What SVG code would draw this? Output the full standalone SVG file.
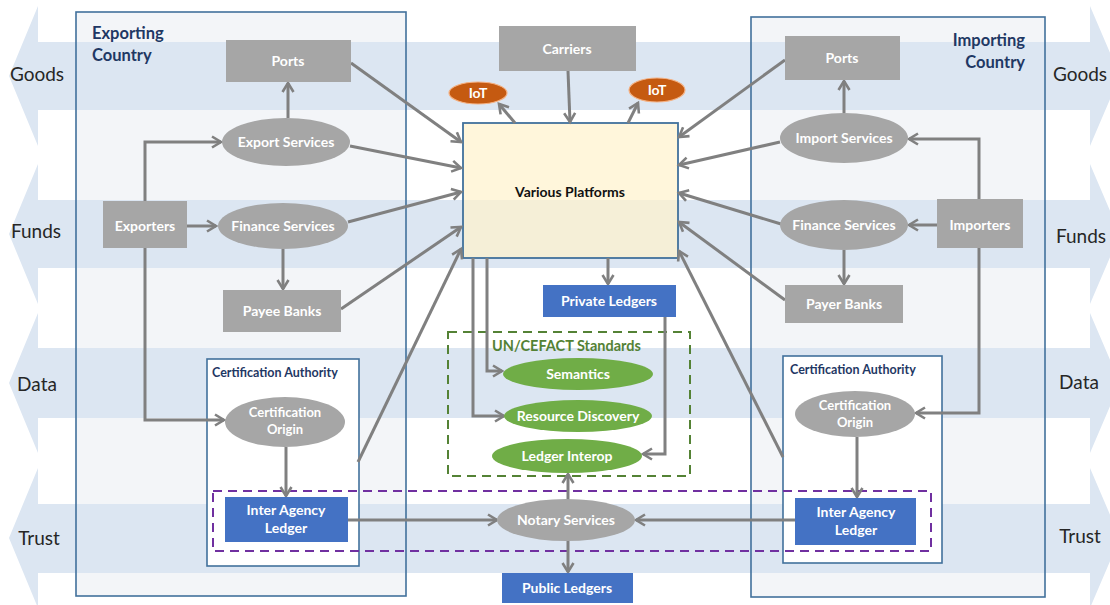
<svg xmlns="http://www.w3.org/2000/svg" width="1110" height="605" viewBox="0 0 1110 605">
<defs>
<marker id="ah" viewBox="0 0 14 14" markerWidth="14" markerHeight="14" refX="11" refY="7" orient="auto" markerUnits="userSpaceOnUse">
<path d="M2,1.5 L11,7 L2,12.5" fill="none" stroke="#808080" stroke-width="2.6" stroke-linejoin="miter"/>
</marker>
<style>
text{font-family:Lato,"Liberation Sans",sans-serif}
.band{fill:#dce6f2}
.country{fill:#f3f5f8;stroke:none}
.cframe{fill:none;stroke:#41719c;stroke-width:1.6}
.ca{fill:#ffffff;stroke:#41719c;stroke-width:1.6}
.gray{fill:#a6a6a6}
.blue{fill:#4472c4}
.green{fill:#70ad47}
.iot{fill:#c55a11;stroke:#f4b183;stroke-width:1.2}
.lbl{fill:#ffffff;font-weight:bold;font-size:14px;text-anchor:middle}
.sm{font-size:13px}
.title{fill:#1f3864;font-weight:bold;font-size:16.5px}
.catitle{fill:#1f3864;font-weight:bold;font-size:12.5px}
.band-lbl{fill:#262626;font-size:19px;text-anchor:middle}
.conn path{fill:none;stroke:#808080;stroke-width:3;marker-end:url(#ah)}
</style>
</defs>
<rect width="1110" height="605" fill="#ffffff"/>
<g id="country-fills">
<rect class="country" x="76" y="12" width="330" height="584"/>
<rect class="country" x="751" y="17" width="294" height="580"/>
</g>
<g id="bands">
<polygon class="band" points="9,76 38,6 38,42 1090,42 1090,6 1120,76 1090,146 1090,110 38,110 38,146"/>
<polygon class="band" points="9,234 38,164 38,200 1090,200 1090,164 1120,234 1090,304 1090,268 38,268 38,304"/>
<polygon class="band" points="9,383 38,313 38,348 1090,348 1090,313 1120,383 1090,453 1090,418 38,418 38,453"/>
<polygon class="band" points="9,538 38,468 38,504 1090,504 1090,468 1120,538 1090,608 1090,573 38,573 38,608"/>
<text class="band-lbl" x="37" y="81">Goods</text>
<text class="band-lbl" x="36" y="238">Funds</text>
<text class="band-lbl" x="37" y="391">Data</text>
<text class="band-lbl" x="39" y="545">Trust</text>
<text class="band-lbl" x="1080" y="81">Goods</text>
<text class="band-lbl" x="1081" y="243">Funds</text>
<text class="band-lbl" x="1079" y="389">Data</text>
<text class="band-lbl" x="1080" y="543">Trust</text>
</g>
<g id="exporting-country">
<rect class="cframe" x="76" y="12" width="330" height="584"/>
<text class="title" x="92" y="39">Exporting</text>
<text class="title" x="92" y="61">Country</text>
</g>
<g id="importing-country">
<rect class="cframe" x="751" y="17" width="294" height="580"/>
<text class="title" x="1025" y="46" text-anchor="end">Importing</text>
<text class="title" x="1025" y="68" text-anchor="end">Country</text>
</g>
<g id="ca-left">
<rect class="ca" x="207" y="359" width="152" height="207"/>
<text class="catitle" x="212" y="377">Certification Authority</text>
</g>
<g id="ca-right">
<rect class="ca" x="783" y="356" width="159" height="207"/>
<text class="catitle" x="790" y="374">Certification Authority</text>
</g>
<g id="trust-group">
<rect x="213" y="491" width="718" height="60" fill="none" stroke="#7030a0" stroke-width="2" stroke-dasharray="9,6"/>
</g>
<g id="uncefact">
<rect x="448" y="332" width="242" height="144" fill="none" stroke="#548235" stroke-width="2" stroke-dasharray="9,6"/>
<text x="492" y="351" fill="#548235" font-weight="bold" font-size="14.5px">UN/CEFACT Standards</text>
</g>
<g id="various-platforms">
<rect x="463" y="123" width="215" height="135" fill="#fff2cc" fill-opacity="0.7" stroke="#41719c" stroke-width="1.8"/>
<text x="570" y="197" text-anchor="middle" font-weight="bold" font-size="14px" fill="#111111">Various Platforms</text>
</g>
<g class="conn" id="connectors">
<path d="M288,118 L288,83"/>
<path d="M145,201 L145,142 L221,142"/>
<path d="M187,226 L216,226"/>
<path d="M145,248 L145,420 L224,420"/>
<path d="M283,249 L283,289"/>
<path d="M286,447 L286,496"/>
<path d="M351,63 L461,142"/>
<path d="M350,146 L461,168"/>
<path d="M348,222 L461,192"/>
<path d="M341,309 L461,227"/>
<path d="M358,462 L461,249"/>
<path d="M568,71 L570,122"/>
<path d="M515,123 L499,104"/>
<path d="M628,123 L638,103"/>
<path d="M785,60 L679,137"/>
<path d="M780,142 L679,165"/>
<path d="M781,224 L679,193"/>
<path d="M785,300 L679,222"/>
<path d="M783,457 L679,251"/>
<path d="M608,258 L608,284"/>
<path d="M487,258 L487,371 L502,371"/>
<path d="M473,258 L473,416 L504,416"/>
<path d="M665,317 L665,454 L643,454"/>
<path d="M348,520 L497,520"/>
<path d="M795,520 L636,520"/>
<path d="M568,500 L568,474"/>
<path d="M568,540 L568,572"/>
<path d="M979,199 L979,139 L909,139"/>
<path d="M937,225 L909,225"/>
<path d="M979,248 L979,413 L916,413"/>
<path d="M844,250 L844,284"/>
<path d="M844,113 L844,81"/>
<path d="M857,437 L857,497"/>
</g>
<g id="ports-left"><rect class="gray" x="226" y="40" width="125" height="42"/><text class="lbl" x="288" y="66">Ports</text></g>
<g id="export-services"><ellipse class="gray" cx="286" cy="142" rx="64" ry="24"/><text class="lbl" x="286" y="147">Export Services</text></g>
<g id="exporters"><rect class="gray" x="103" y="201" width="84" height="47"/><text class="lbl" x="145" y="231">Exporters</text></g>
<g id="finance-left"><ellipse class="gray" cx="283" cy="226" rx="65" ry="23"/><text class="lbl" x="283" y="231">Finance Services</text></g>
<g id="payee-banks"><rect class="gray" x="223" y="290" width="118" height="42"/><text class="lbl" x="282" y="316">Payee Banks</text></g>
<g id="cert-origin-left"><ellipse class="gray" cx="285" cy="422" rx="60" ry="25"/><text class="lbl sm" x="285" y="417">Certification</text><text class="lbl sm" x="285" y="434">Origin</text></g>
<g id="ial-left"><rect class="blue" x="225" y="497" width="123" height="45"/><text class="lbl" x="286" y="515">Inter Agency</text><text class="lbl" x="286" y="533">Ledger</text></g>
<g id="carriers"><rect class="gray" x="499" y="26" width="137" height="45"/><text class="lbl" x="567" y="54">Carriers</text></g>
<g id="iot-left"><ellipse class="iot" cx="478" cy="93" rx="29" ry="11"/><text class="lbl" x="478" y="98">IoT</text></g>
<g id="iot-right"><ellipse class="iot" cx="657" cy="90" rx="28" ry="12"/><text class="lbl" x="657" y="95">IoT</text></g>
<g id="private-ledgers"><rect class="blue" x="543" y="285" width="133" height="32"/><text class="lbl" x="609" y="306">Private Ledgers</text></g>
<g id="semantics"><ellipse class="green" cx="578" cy="374" rx="75" ry="16"/><text class="lbl" x="578" y="379">Semantics</text></g>
<g id="resource-discovery"><ellipse class="green" cx="578" cy="416" rx="74" ry="16"/><text class="lbl" x="578" y="421">Resource Discovery</text></g>
<g id="ledger-interop"><ellipse class="green" cx="567" cy="456" rx="75" ry="17"/><text class="lbl" x="567" y="461">Ledger Interop</text></g>
<g id="notary-services"><ellipse class="gray" cx="566" cy="520" rx="69" ry="21"/><text class="lbl" x="566" y="525">Notary Services</text></g>
<g id="public-ledgers"><rect class="blue" x="502" y="573" width="131" height="30"/><text class="lbl" x="567" y="593">Public Ledgers</text></g>
<g id="ports-right"><rect class="gray" x="785" y="36" width="115" height="44"/><text class="lbl" x="842" y="63">Ports</text></g>
<g id="import-services"><ellipse class="gray" cx="844" cy="138" rx="64" ry="25"/><text class="lbl" x="844" y="143">Import Services</text></g>
<g id="importers"><rect class="gray" x="937" y="199" width="86" height="49"/><text class="lbl" x="980" y="230">Importers</text></g>
<g id="finance-right"><ellipse class="gray" cx="844" cy="225" rx="64" ry="25"/><text class="lbl" x="844" y="230">Finance Services</text></g>
<g id="payer-banks"><rect class="gray" x="785" y="285" width="118" height="38"/><text class="lbl" x="844" y="309">Payer Banks</text></g>
<g id="cert-origin-right"><ellipse class="gray" cx="855" cy="414" rx="60" ry="23"/><text class="lbl sm" x="855" y="410">Certification</text><text class="lbl sm" x="855" y="427">Origin</text></g>
<g id="ial-right"><rect class="blue" x="795" y="498" width="121" height="47"/><text class="lbl" x="856" y="517">Inter Agency</text><text class="lbl" x="856" y="535">Ledger</text></g>
</svg>
